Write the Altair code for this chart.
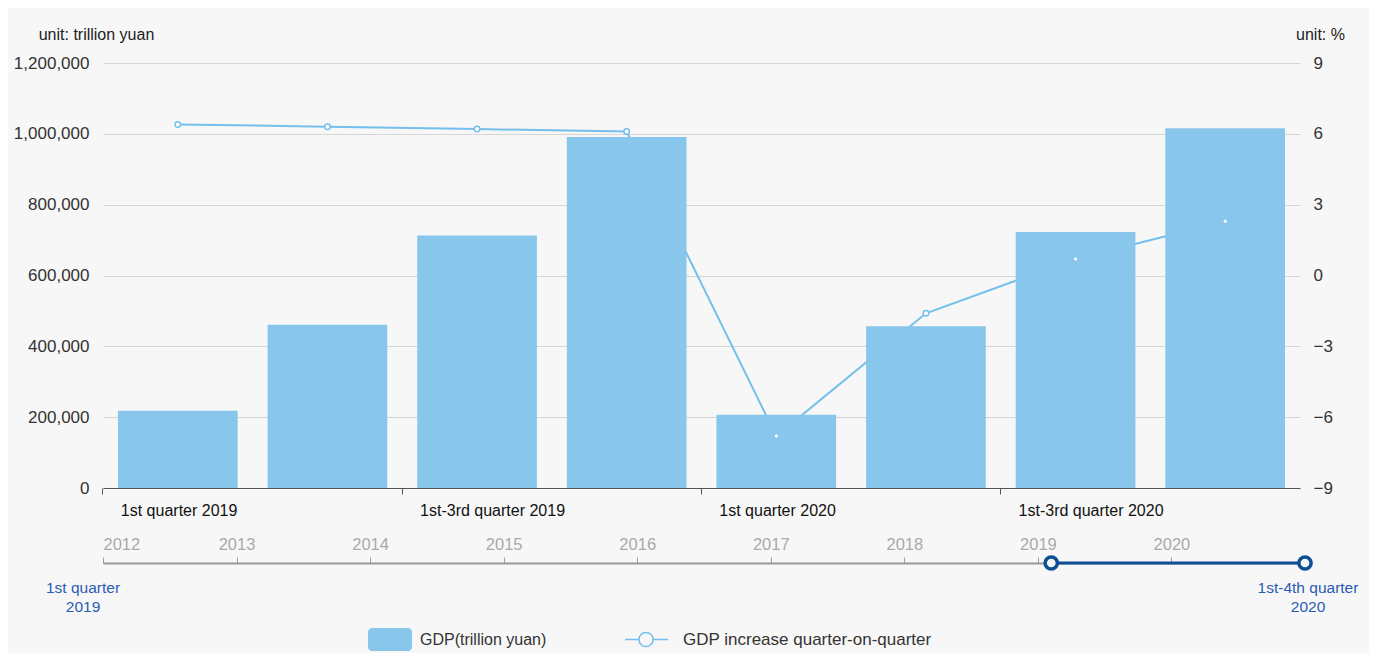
import altair as alt
import pandas as pd

# ---------------- data ----------------
periods = [
    "1st quarter 2019", "1st-2nd quarter 2019", "1st-3rd quarter 2019", "1st-4th quarter 2019",
    "1st quarter 2020", "1st-2nd quarter 2020", "1st-3rd quarter 2020", "1st-4th quarter 2020",
]
gdp_values = [218100, 460600, 712800, 990900, 206500, 456600, 722800, 1016000]
growth_values = [6.4, 6.3, 6.2, 6.1, -6.8, -1.6, 0.7, 2.3]
shown_periods = [periods[0], periods[2], periods[4], periods[6]]
gdp_ticks = [0, 200000, 400000, 600000, 800000, 1000000, 1200000]
growth_ticks = [-9, -6, -3, 0, 3, 6, 9]
years = [2012, 2013, 2014, 2015, 2016, 2017, 2018, 2019, 2020]
window_start = [2019.1]
window_end = [2021]
range_left_label = ["1st quarter", "2019"]
range_right_label = ["1st-4th quarter", "2020"]
legend_names = ["GDP(trillion yuan)", "GDP increase quarter-on-quarter"]

FONT = "Liberation Sans"
BAR = "#88c6ec"
LINE = "#74bfec"
NAVY = "#0d4f94"
BLUE_TXT = "#2a5cb3"
BG = "#f7f7f7"

df = pd.DataFrame({"period": periods, "gdp": gdp_values, "growth": growth_values})
base = alt.Chart(df)

x = alt.X(
    "period:N", sort=periods, title=None,
    scale=alt.Scale(paddingInner=0.2, paddingOuter=0.1),
    axis=alt.Axis(values=shown_periods, bandPosition=-0.125, labelAlign="left", labelOffset=-57,
                  labelAngle=0, labelFontSize=16, labelColor="#111", labelPadding=8,
                  tickSize=6, tickColor="#555", domainColor="#555", grid=False),
)
gs = alt.Scale(domain=[-9, 9], nice=False, zero=False)
ys = alt.Scale(domain=[0, 1200000], nice=False)

line = base.mark_line(color=LINE, strokeWidth=2).encode(
    x=x,
    y=alt.Y("growth:Q", scale=gs,
            axis=alt.Axis(orient="right", values=growth_ticks, format="d", grid=False, domain=False,
                          ticks=False, labelPadding=13, labelFontSize=17, labelColor="#333",
                          title="unit: %", titleAngle=0, titleX=20, titleY=-29, titleAlign="center",
                          titleBaseline="middle", titleFontWeight="normal", titleFontSize=16,
                          titleColor="#222")),
)
points = base.mark_point(filled=True, fill="white", stroke=LINE, strokeWidth=1.5, size=30, opacity=1).encode(
    x=x, y=alt.Y("growth:Q", scale=gs, axis=None)
)
bars = base.mark_bar(color=BAR).encode(
    x=x,
    y=alt.Y("gdp:Q", scale=ys,
            axis=alt.Axis(orient="left", values=gdp_ticks, format=",d", grid=True, gridColor="#d6d6d6",
                          domain=False, ticks=False, labelPadding=14, labelFontSize=17, labelColor="#333",
                          title="unit: trillion yuan", titleAngle=0, titleX=-7, titleY=-29,
                          titleAlign="center", titleBaseline="middle", titleFontWeight="normal",
                          titleFontSize=16, titleColor="#222")),
)
dots = base.mark_circle(color="white", size=10, opacity=1).encode(
    x=x, y=alt.Y("growth:Q", scale=gs, axis=None)
)

main = alt.layer(line, points, bars, dots).resolve_scale(y="independent").properties(width=1197, height=425)

# ---------------- bottom timeline + legend ----------------
xs = alt.Scale(domain=[2012, 2021], nice=False, zero=False)
win = pd.DataFrame({"start": window_start, "end": window_end})
handles = pd.DataFrame({"pos": window_start + window_end})
one = pd.DataFrame({"k": [0]})

rule = alt.Chart(win).mark_rule(color=NAVY, strokeWidth=3).encode(
    x=alt.X("start:Q", scale=xs, title=None,
            axis=alt.Axis(orient="top", values=years, format="d", grid=False, labelColor="#a9a9a9",
                          labelFontSize=16.5, tickColor="#9a9a9a", domainColor="#9a9a9a", domainWidth=2,
                          tickSize=6, labelPadding=5)),
    x2="end:Q", y=alt.value(0),
)
circles = alt.Chart(handles).mark_point(filled=True, fill=BG, stroke=NAVY, strokeWidth=3.5, size=150, opacity=1).encode(
    x=alt.X("pos:Q", scale=xs), y=alt.value(0)
)
lbl_left = alt.Chart(pd.DataFrame({"pos": [2012], "label": [range_left_label]})).mark_text(
    color=BLUE_TXT, fontSize=15.5, baseline="top", align="center", dx=-20, lineHeight=19
).encode(x=alt.X("pos:Q", scale=xs), y=alt.value(18), text="label")
lbl_right = alt.Chart(pd.DataFrame({"pos": [2021], "label": [range_right_label]})).mark_text(
    color=BLUE_TXT, fontSize=15.5, baseline="top", align="center", dx=3, lineHeight=19
).encode(x=alt.X("pos:Q", scale=xs), y=alt.value(18), text="label")

oc = alt.Chart(one)
leg_rect = oc.mark_rect(color=BAR, cornerRadius=4).encode(
    x=alt.value(265), x2=alt.value(309), y=alt.value(65), y2=alt.value(88))
leg_txt1 = oc.mark_text(align="left", baseline="middle", fontSize=16, color="#333").encode(
    x=alt.value(317), y=alt.value(76.5), text=alt.value(legend_names[0]))
leg_line = oc.mark_rule(color=LINE, strokeWidth=1.5).encode(
    x=alt.value(522), x2=alt.value(565), y=alt.value(76.5))
leg_circ = oc.mark_point(filled=True, fill=BG, stroke=LINE, strokeWidth=1.5, size=200, opacity=1).encode(
    x=alt.value(543), y=alt.value(76.5))
leg_txt2 = oc.mark_text(align="left", baseline="middle", fontSize=17, color="#333").encode(
    x=alt.value(580), y=alt.value(76.5), text=alt.value(legend_names[1]))

bottom = alt.layer(rule, circles, lbl_left, lbl_right, leg_rect, leg_txt1, leg_line, leg_circ, leg_txt2).properties(
    width=1202, height=90
)

chart = alt.vconcat(main, bottom, spacing=18).properties(
    padding={"top": 18, "left": 5, "right": 10, "bottom": 0}, background=BG
).configure(font=FONT).configure_view(stroke=None)

chart.save("out.html", embed_options={"renderer": "svg", "actions": False})
